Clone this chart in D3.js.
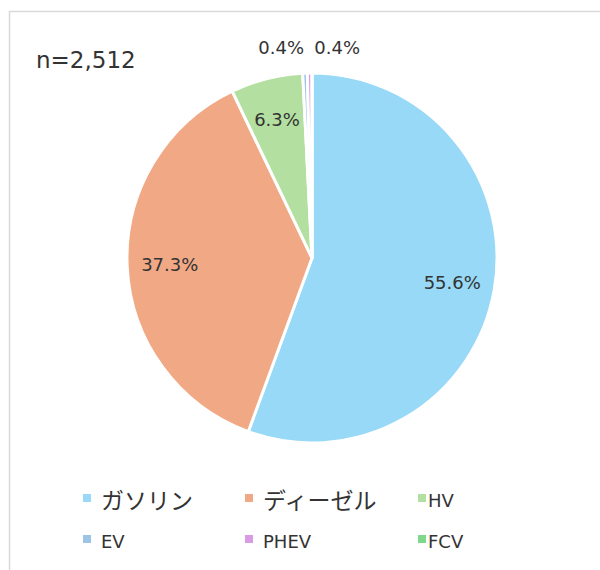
<!DOCTYPE html>
<html>
<head>
<meta charset="utf-8">
<script src="https://cdn.jsdelivr.net/npm/d3@7"></script>
<style>
  body { margin: 0; background: #fff; }
  text { fill: #333; }
</style>
</head>
<body>
<svg id="chart" width="600" height="570"></svg>
<script>
// data
const categories = ["ガソリン", "ディーゼル", "HV", "EV", "PHEV", "FCV"];
const shares = [55.6, 37.3, 6.3, 0.4, 0.4, 0.0];
const colors = ["#97d9f6", "#f1a985", "#b3e0a0", "#9dc3e6", "#d99be3", "#7ed98d"];
const sampleLabel = "n=2,512";

const width = 600, height = 570,
  cx = 312, cy = 258, radius = 185;

const svg = d3.select("#chart");

svg.append("rect")
  .attr("width", width).attr("height", height)
  .attr("fill", "#fff");

// chart frame (runs off the right and bottom of the shot)
svg.append("rect")
  .attr("x", 9.5).attr("y", 11.5)
  .attr("width", width + 20).attr("height", height + 20)
  .attr("fill", "none")
  .attr("stroke", "#d9d9d9")
  .attr("stroke-width", 1.5);

svg.append("text")
  .attr("x", 36).attr("y", 68)
  .style("font-family", "'DejaVu Sans', sans-serif")
  .style("font-size", "23px")
  .text(sampleLabel);

let rows = categories.map(function(c, i) {
  return {name: c, value: shares[i], color: colors[i]};
});

let pie = d3.pie()
  .value(function(d) { return d.value; })
  .sort(null);

let arc = d3.arc().innerRadius(0).outerRadius(radius);
let labelArc = d3.arc().innerRadius(radius * 0.77).outerRadius(radius * 0.77);
let outerArc = d3.arc().innerRadius(radius * 1.14).outerRadius(radius * 1.14);

let g = svg.append("g")
  .attr("transform", "translate(" + cx + "," + cy + ")");

let arcs = pie(rows);

g.selectAll("path")
  .data(arcs)
  .enter().append("path")
  .attr("d", arc)
  .attr("fill", function(d) { return d.data.color; })
  .attr("stroke", "#fff")
  .attr("stroke-width", 3)
  .attr("stroke-linejoin", "round");

// labels: big slices inside, tiny ones pushed outside
let smallCount = 0;
g.selectAll("text.pct")
  .data(arcs.filter(function(d) { return d.data.value > 0; }))
  .enter().append("text")
  .attr("class", "pct")
  .style("font-family", "'DejaVu Sans', sans-serif")
  .style("font-size", "18px")
  .attr("dy", "0.36em")
  .each(function(d) {
    let t = d3.select(this);
    if (d.data.value < 2) {
      let p = outerArc.centroid(d);
      if (smallCount === 0) {
        t.attr("x", p[0]).attr("text-anchor", "end");
      } else {
        t.attr("x", p[0] + 5).attr("text-anchor", "start");
      }
      t.attr("y", p[1]);
      smallCount++;
    } else {
      let p = labelArc.centroid(d);
      t.attr("x", p[0]).attr("y", p[1]).attr("text-anchor", "middle");
    }
  })
  .text(function(d) { return d.data.value.toFixed(1) + "%"; });

// legend, 3 columns x 2 rows
let colX = [83, 245, 418],
  rowY = [501, 542];

let legend = svg.selectAll("g.legend")
  .data(rows)
  .enter().append("g")
  .attr("class", "legend")
  .attr("transform", function(d, i) {
    return "translate(" + colX[i % 3] + "," + rowY[Math.floor(i / 3)] + ")";
  });

legend.append("rect")
  .attr("x", 0).attr("y", -7)
  .attr("width", 8).attr("height", 8)
  .attr("fill", function(d) { return d.color; });

legend.append("text")
  .attr("x", function(d, i) { return i % 3 === 2 ? 10 : 18; })
  .attr("y", 0)
  .attr("dy", "0.35em")
  .style("font-family", function(d) {
    return /[^\x00-\x7f]/.test(d.name) ? "'Noto Sans CJK JP', sans-serif" : "'DejaVu Sans', sans-serif";
  })
  .style("font-size", function(d) {
    return /[^\x00-\x7f]/.test(d.name) ? "23px" : "18px";
  })
  .text(function(d) { return d.name; });
</script>
</body>
</html>
